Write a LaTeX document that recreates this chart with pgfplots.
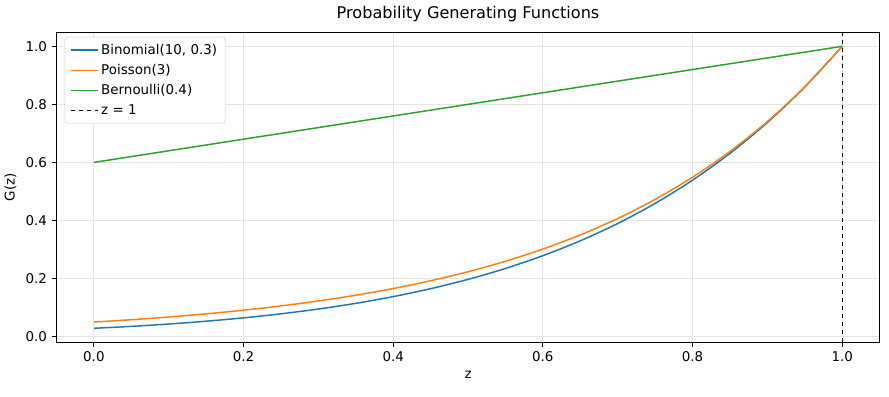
\documentclass[border=0pt]{standalone}
\usepackage{pgfplots}
\pgfplotsset{compat=1.18}
\usepackage{fontspec}
\setmainfont{DejaVu Sans}
\definecolor{tabblue}{HTML}{1F77B4}
\definecolor{taborange}{HTML}{FF7F0E}
\definecolor{tabgreen}{HTML}{2CA02C}
\begin{document}
\begin{tikzpicture}
\begin{axis}[
  scale only axis,
  width=613pt, height=231pt,
  xmin=-0.05, xmax=1.05, ymin=-0.0204, ymax=1.0486,
  xtick={0,0.2,0.4,0.6,0.8,1.0},
  xticklabels={0.0,0.2,0.4,0.6,0.8,1.0},
  ytick={0,0.2,0.4,0.6,0.8,1.0},
  yticklabels={0.0,0.2,0.4,0.6,0.8,1.0},
  tick align=outside, tick pos=left,
  major tick length=3.5pt,
  grid=major, grid style={gray!22, line width=0.6pt},
  axis line style={line width=0.6pt},
  every tick/.style={black, line width=0.6pt},
  ticklabel style={font=\fontsize{10}{12}\selectfont},
  label style={font=\fontsize{10}{12}\selectfont},
  xlabel={z}, ylabel={G(z)},
  title={Probability Generating Functions},
  title style={font=\fontsize{12}{14}\selectfont, yshift=-2pt},
  legend cell align=left,
  legend style={font=\fontsize{10}{12}\selectfont, draw=gray!40, rounded corners=2pt, inner xsep=4pt, inner ysep=3pt, row sep=2pt, at={(0.01,0.985)}, anchor=north west},
  legend image code/.code={\draw[mark repeat=2,mark phase=2,#1] plot coordinates {(0cm,0cm) (0.35cm,0cm) (0.7cm,0cm)};},
]
\addplot[tabblue, line width=1.1pt, smooth] coordinates {
(0,0.02825) (0.05,0.03490) (0.1,0.04298) (0.15,0.05268) (0.2,0.06428) (0.25,0.07816) (0.3,0.09468) (0.35,0.11427) (0.4,0.13745) (0.45,0.16479) (0.5,0.19687) (0.55,0.23449) (0.6,0.27850) (0.65,0.32979) (0.7,0.38942) (0.75,0.45860) (0.8,0.53862) (0.85,0.63107) (0.9,0.73742) (0.95,0.85973) (1,1)};
\addlegendentry{Binomial(10, 0.3)}
\addplot[taborange, line width=1.1pt, smooth] coordinates {
(0,0.04979) (0.05,0.05784) (0.1,0.06721) (0.15,0.07808) (0.2,0.09072) (0.25,0.10540) (0.3,0.12246) (0.35,0.14227) (0.4,0.16530) (0.45,0.19205) (0.5,0.22313) (0.55,0.25924) (0.6,0.30119) (0.65,0.34994) (0.7,0.40657) (0.75,0.47237) (0.8,0.54881) (0.85,0.63763) (0.9,0.74082) (0.95,0.86071) (1,1)};
\addlegendentry{Poisson(3)}
\addplot[tabgreen, line width=1.1pt] coordinates {(0,0.6) (0.5,0.8) (1,1)};
\addlegendentry{Bernoulli(0.4)}
\addplot[black, dashed, line width=0.6pt] coordinates {(1,-0.0204) (1,1.0486)};
\addlegendentry{z = 1}
\end{axis}
\draw[draw=none] (current axis.south east) ++(7pt,-40pt) -- ++(-1pt,0pt);
\draw[draw=none] (current axis.north west) ++(0pt,24pt) -- ++(1pt,0pt);
\end{tikzpicture}
\end{document}
